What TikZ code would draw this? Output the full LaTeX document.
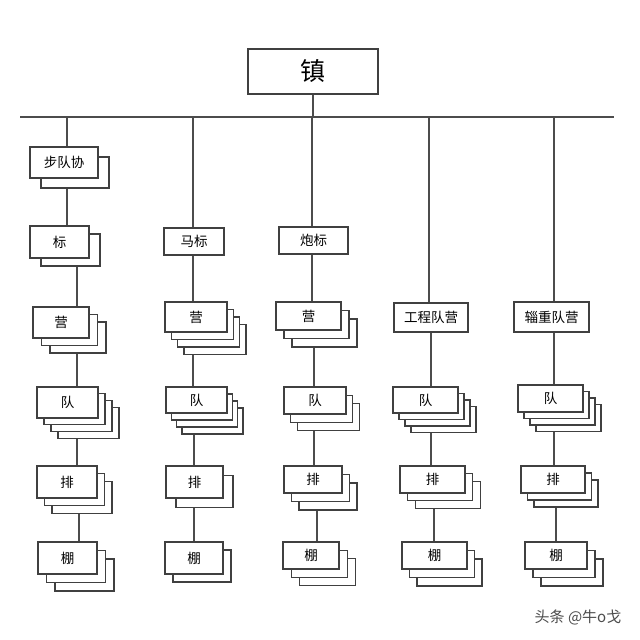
\documentclass[tikz,border=0pt]{standalone}
\usepackage{fontspec}
\setmainfont{Noto Sans CJK SC}
\usetikzlibrary{calc}

\tikzset{
  unit/.style={draw=black!75, fill=white, line width=1.2pt, inner sep=0pt,
    font=\fontsize{13.5}{15}\selectfont},
  link/.style={draw=black!70, line width=1.2pt},
}
% main box at #2 with #5 copies behind it, each moved by #6
\newcommand{\stackbox}[7]{%
  \foreach \k in {#5,...,1}{
    \node[unit, minimum width=#3pt, minimum height=#4pt] (#1\k) at ($(#2)+\k*(#6)$) {};
  }
  \node[unit, minimum width=#3pt, minimum height=#4pt] (#1) at (#2) {#7};
}

\begin{document}
\begin{tikzpicture}[x=1pt, y=-1pt]
  \useasboundingbox[fill=white] (0,0) rectangle (640,640);

  \node[unit, minimum width=130pt, minimum height=45pt, font=\fontsize{25}{28}\selectfont] (zhen) at (313,71.5) {镇};
  \coordinate (busL) at (20,117);
  \coordinate (busR) at (614,117);
  \draw[link] (busL) -- (busR);
  \draw[link] (zhen.south) -- (zhen.south |- busL);

  % first column
  \stackbox{buxie}{64,162.5}{68}{31}{1}{11,10}{步队协}
  \stackbox{biaoA}{59.5,242}{59}{32}{1}{11,8}{标}
  \stackbox{yingA}{61,322.5}{56}{31}{2}{8.5,7.5}{营}
  \stackbox{duiA}{67.5,402.5}{61}{31}{3}{7,6.7}{队}
  \stackbox{paiA}{67,482}{60}{32}{2}{7.5,7.7}{排}
  \stackbox{pengA}{67.5,558}{59}{32}{2}{8.5,8.5}{棚}

  % second column
  \node[unit, minimum width=60pt, minimum height=27pt] (mabiao) at (194,241.5) {马标};
  \stackbox{yingB}{196,317}{62}{30}{3}{6.3,7.5}{营}
  \stackbox{duiB}{196.5,400}{61}{26}{3}{5.3,7}{队}
  \stackbox{paiB}{194.5,482}{57}{32}{1}{10,9.5}{排}
  \stackbox{pengB}{194,558}{58}{32}{1}{8,8}{棚}

  % third column
  \node[unit, minimum width=69pt, minimum height=27pt] (paobiao) at (313.5,240.5) {炮标};
  \stackbox{yingC}{308.5,316}{65}{28}{2}{8,8.5}{营}
  \stackbox{duiC}{315,400.5}{62}{27}{2}{6.8,8.2}{队}
  \stackbox{paiC}{313,479.5}{58}{27}{2}{7.5,8.5}{排}
  \stackbox{pengC}{311,555.5}{56}{27}{2}{8.2,8.2}{棚}

  % fourth column
  \node[unit, minimum width=74pt, minimum height=29pt] (gongcheng) at (431,317.5) {工程队营};
  \stackbox{duiD}{425.5,400}{65}{26}{3}{6,6.5}{队}
  \stackbox{paiD}{432.5,479.5}{65}{27}{2}{7.8,7.8}{排}
  \stackbox{pengD}{434.5,555.5}{65}{27}{2}{7.5,8.5}{棚}

  % fifth column
  \node[unit, minimum width=75pt, minimum height=30pt] (zizhong) at (551.5,317) {辎重队营};
  \stackbox{duiE}{550.5,398.5}{65}{27}{3}{6,6.5}{队}
  \stackbox{paiE}{553,479.5}{64}{27}{2}{6.5,7}{排}
  \stackbox{pengE}{556,555.5}{62}{27}{2}{8,8.5}{棚}

  % links
  \draw[link] (busL -| 67,0) -- (buxie.north -| 67,0);
  \draw[link] (buxie1.south -| 67,0) -- (biaoA.north -| 67,0);
  \draw[link] (biaoA1.south -| 77,0) -- (yingA.north -| 77,0);
  \draw[link] (yingA2.south -| 77,0) -- (duiA.north -| 77,0);
  \draw[link] (duiA3.south -| 77,0) -- (paiA.north -| 77,0);
  \draw[link] (paiA2.south -| 79,0) -- (pengA.north -| 79,0);

  \draw[link] (busL -| 193,0) -- (mabiao.north -| 193,0);
  \draw[link] (mabiao.south -| 193,0) -- (yingB.north -| 193,0);
  \draw[link] (yingB3.south -| 193,0) -- (duiB.north -| 193,0);
  \draw[link] (duiB3.south -| 194,0) -- (paiB.north -| 194,0);
  \draw[link] (paiB1.south -| 194,0) -- (pengB.north -| 194,0);

  \draw[link] (busL -| 312,0) -- (paobiao.north -| 312,0);
  \draw[link] (paobiao.south -| 312,0) -- (yingC.north -| 312,0);
  \draw[link] (yingC2.south -| 314,0) -- (duiC.north -| 314,0);
  \draw[link] (duiC2.south -| 314,0) -- (paiC.north -| 314,0);
  \draw[link] (paiC2.south -| 317,0) -- (pengC.north -| 317,0);

  \draw[link] (busL -| 429,0) -- (gongcheng.north -| 429,0);
  \draw[link] (gongcheng.south -| 431,0) -- (duiD.north -| 431,0);
  \draw[link] (duiD3.south -| 431,0) -- (paiD.north -| 431,0);
  \draw[link] (paiD2.south -| 434,0) -- (pengD.north -| 434,0);

  \draw[link] (busL -| 554,0) -- (zizhong.north -| 554,0);
  \draw[link] (zizhong.south -| 554,0) -- (duiE.north -| 554,0);
  \draw[link] (duiE3.south -| 554,0) -- (paiE.north -| 554,0);
  \draw[link] (paiE2.south -| 556,0) -- (pengE.north -| 556,0);

  \node[font=\fontsize{15}{17}\selectfont, text=black!70] (mark) at (578,617) {头条 @牛o戈};
\end{tikzpicture}
\end{document}
